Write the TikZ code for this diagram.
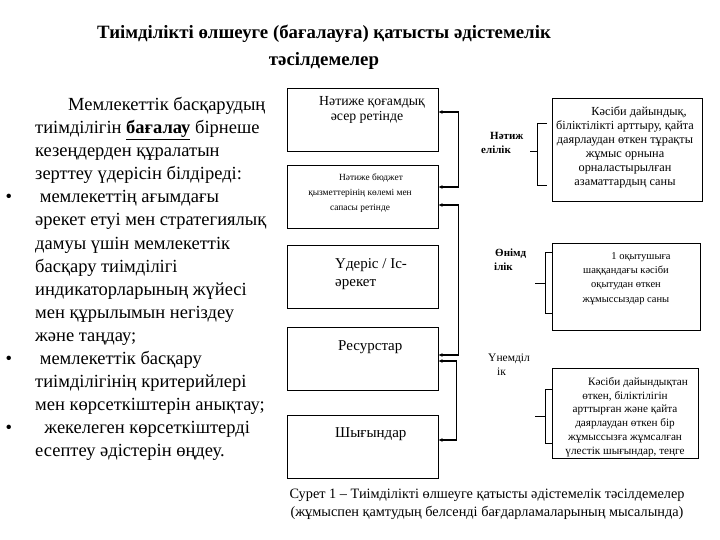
\documentclass[tikz,border=0pt]{standalone}
\usepackage{fontspec}
\setmainfont{Liberation Serif}
\usetikzlibrary{positioning, arrows.meta}

\begin{document}
\begin{tikzpicture}[
    x=1pt, y=-1pt,
    % Styles
    stage_box/.style={
        draw,
        rectangle,
        line width=0.8pt,
        minimum width=151pt,
        minimum height=63pt,
        inner sep=0pt
    },
    crit_box/.style={
        draw,
        rectangle,
        line width=0.8pt,
        inner sep=0pt
    },
    stage_text/.style={font=\fontsize{15}{18.5}\selectfont, align=left, inner sep=0pt, anchor=north west},
    small_text/.style={font=\fontsize{9.4}{15}\selectfont, align=center, inner sep=0pt},
    crit_text/.style={font=\fontsize{11.5}{14}\selectfont, align=center, inner sep=0pt},
    crit_label/.style={font=\fontsize{11}{14}\selectfont\bfseries, align=left, inner sep=0pt, anchor=north west},
    link/.style={<->, >={Latex[length=4pt,width=4pt]}, line width=1.5pt},
    brace_line/.style={line width=0.8pt}
]

    % --- Canvas ---
    \fill[white] (0,0) rectangle (720,540);
    \useasboundingbox (0,0) rectangle (720,540);

    % --- Title ---
    \node[font=\fontsize{18.8}{27}\selectfont\bfseries, align=center] (title) at (324,47)
        {Тиімділікті өлшеуге (бағалауға) қатысты әдістемелік\\тәсілдемелер};

    % --- Left text ---
    \node[font=\fontsize{18.5}{23.1}\selectfont, align=left, inner sep=0pt, anchor=north west] (intro) at (35,97) {
        \hspace*{33pt}Мемлекеттік басқарудың\\
        тиімділігін \textbf{\underline{бағалау}} бірнеше\\
        кезеңдерден құралатын\\
        зерттеу үдерісін білдіреді:\\
        \llap{\textbullet\hspace{23pt}}\ мемлекеттің ағымдағы\\
        әрекет етуі мен стратегиялық\\
        дамуы үшін мемлекеттік\\
        басқару тиімділігі\\
        индикаторларының жүйесі\\
        мен құрылымын негіздеу\\
        және таңдау;\\
        \llap{\textbullet\hspace{23pt}}\ мемлекеттік басқару\\
        тиімділігінің критерийлері\\
        мен көрсеткіштерін анықтау;\\
        \llap{\textbullet\hspace{23pt}}\ \ жекелеген көрсеткіштерді\\
        есептеу әдістерін өңдеу.
    };

    % --- Stages ---
    \node[stage_box] (impact) at (362.5,119.5) {};
    \node[font=\fontsize{13.8}{15}\selectfont, align=center, inner sep=0pt] at (367,110)
        {\hspace*{10pt}Нәтиже қоғамдық\\әсер ретінде};

    \node[stage_box] (output) at (362.5,197) {};
    \node[small_text] at (360,193)
        {\hspace*{22pt}Нәтиже бюджет\\қызметтерінің көлемі мен\\сапасы ретінде};

    \node[stage_box] (process) at (362.5,276.5) {};
    \node[stage_text] at (335,258) {Үдеріс / Іс-\\әрекет};

    \node[stage_box] (resource) at (362.5,359) {};
    \node[stage_text] at (338,340) {Ресурстар};

    \node[stage_box] (cost) at (362.5,447) {};
    \node[stage_text] at (335,427) {Шығындар};

    % --- Links between stages ---
    \draw[link] ([yshift=7.5pt]impact.east) -- ++(20,0) |- ([yshift=10pt]output.east);
    \draw[link] ([yshift=-8pt]output.east) -- ++(20,0) |- ([yshift=4pt]resource.east);
    \draw[link] ([yshift=-2pt]resource.east) -- ++(18,0) |- ([yshift=7pt]cost.east);

    % --- Criteria ---
    \node[crit_label] (eff) at (481,132) {\hspace*{9pt}Нәтиж\\елілік};
    \node[crit_box, minimum width=150pt, minimum height=103pt] (effbox) at (627,149.5) {};
    \node[crit_text, font=\fontsize{12.3}{14}\selectfont] at (625,147) {\hspace*{28pt}Кәсіби дайындық,\\біліктілікті арттыру, қайта\\даярлаудан өткен тұрақты\\жұмыс орнына\\орналастырылған\\азаматтардың саны};
    \draw[brace_line] (547,123) -- (537,123) -- (537,185) -- (547,185);
    \draw[brace_line] (537,151) -- (530,151);

    \node[crit_label] (prod) at (494,249) {\hspace*{1pt}Өнімд\\ілік};
    \node[crit_box, minimum width=148pt, minimum height=87pt] (prodbox) at (626,286.5) {};
    \node[crit_text, font=\fontsize{10.5}{14.3}\selectfont] at (626,278.5) {\hspace*{30pt}1 оқытушыға\\шаққандағы кәсіби\\оқытудан өткен\\жұмыссыздар саны};
    \draw[brace_line] (552,252) -- (545,252) -- (545,313) -- (552,313);
    \draw[brace_line] (545,283) -- (535,283);

    \node[crit_label, font=\fontsize{11.5}{14}\selectfont] (econ) at (488,354) {Үнемділ\\\hspace*{9pt}ік};
    \node[crit_box, minimum width=146pt, minimum height=90pt] (econbox) at (625,413) {};
    \node[crit_text, font=\fontsize{11.2}{13.8}\selectfont] at (625,417) {\hspace*{26pt}Кәсіби дайындықтан\\өткен, біліктілігін\\арттырған және қайта\\даярлаудан өткен бір\\жұмыссызға жұмсалған\\үлестік шығындар, теңге};
    \draw[brace_line] (552,389) -- (545,389) -- (545,443) -- (552,443);
    \draw[brace_line] (545,416) -- (535,416);

    % --- Caption ---
    \node[font=\fontsize{14.3}{18}\selectfont, align=center] (caption) at (487,504)
        {Сурет 1 – Тиімділікті өлшеуге қатысты әдістемелік тәсілдемелер\\(жұмыспен қамтудың белсенді бағдарламаларының мысалында)};

\end{tikzpicture}
\end{document}
